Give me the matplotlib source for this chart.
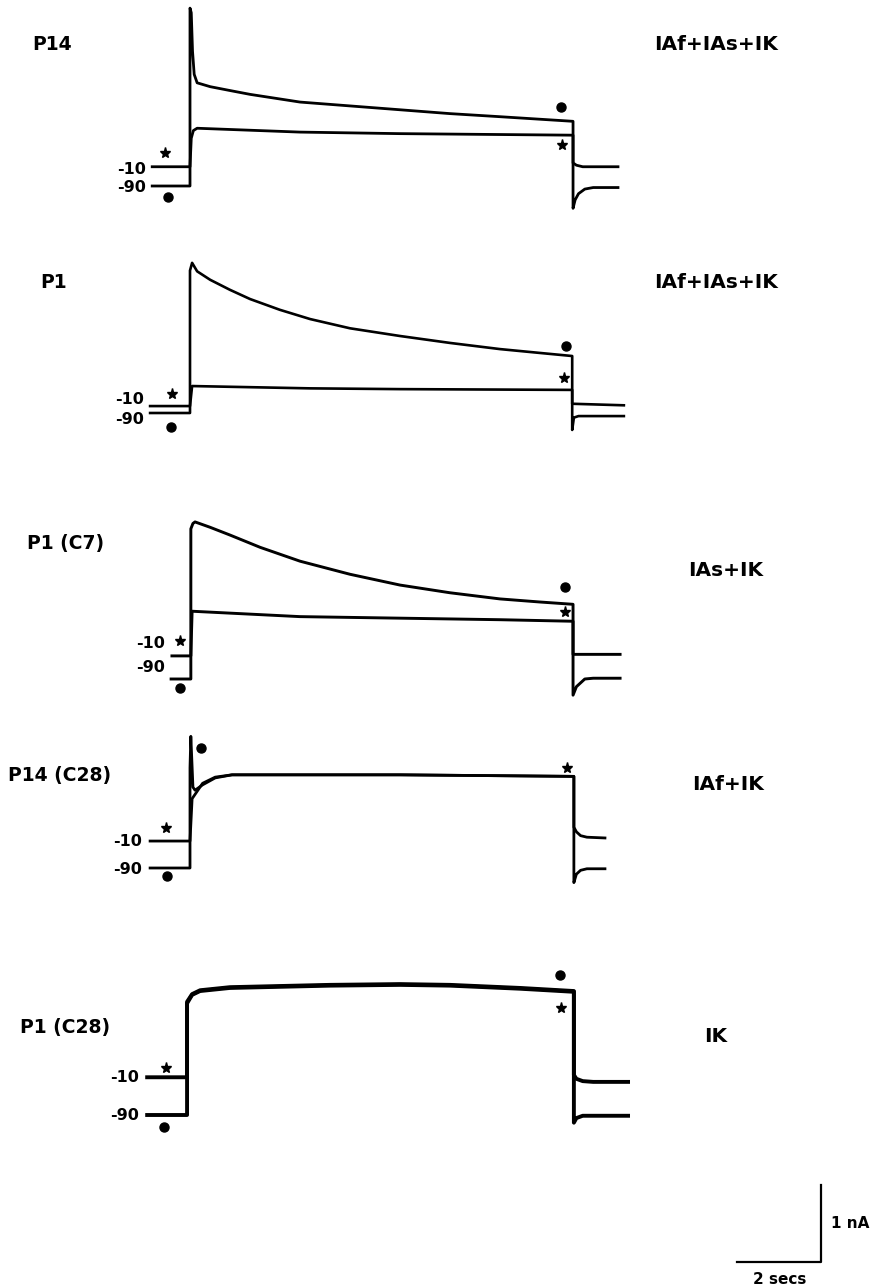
import matplotlib.pyplot as plt

plt.rcParams['font.family'] = ['DejaVu Sans']

# picture scale: 42 px per second, 77 px per nA; pulse onset at x = 190 px
PX_S = 42.0
PX_NA = 77.0
X0 = 190.0
W, H = 874, 1287

names = ["P14", "P1", "P1 (C7)", "P14 (C28)", "P1 (C28)"]
currents = ["IAf+IAs+IK", "IAf+IAs+IK", "IAs+IK", "IAf+IK", "IK"]
hold_labels = ["-10", "-90"]

# traces: time (s from pulse onset), current (nA above the -90 holding level)
# dot = prepulse -90 mV, star = prepulse -10 mV
p14_dot_t = [-0.90, 0.0, 0.0, 0.03, 0.06, 0.10, 0.17, 0.48, 0.95, 1.43, 2.62, 3.81, 5.0,
             6.19, 7.38, 9.12, 9.12, 9.17, 9.25, 9.4, 9.6, 10.19]
p14_dot_i = [0.0, 0.0, 2.31, 2.25, 1.75, 1.45, 1.34, 1.29, 1.24, 1.19, 1.09, 1.04, 0.99,
             0.94, 0.90, 0.84, -0.29, -0.18, -0.10, -0.04, -0.02, -0.02]
p14_star_t = [-0.90, 0.0, 0.03, 0.08, 0.17, 2.62, 5.0, 9.12, 9.12, 9.2, 9.35, 10.19]
p14_star_i = [0.25, 0.25, 0.62, 0.72, 0.75, 0.70, 0.68, 0.66, 0.30, 0.27, 0.25, 0.25]

p1_dot_t = [-0.95, 0.0, 0.0, 0.05, 0.17, 0.48, 0.95, 1.43, 2.14, 2.86, 3.81, 5.0, 6.19,
            7.38, 8.33, 9.10, 9.10, 9.14, 9.25, 10.33]
p1_dot_i = [0.0, 0.0, 1.85, 1.95, 1.84, 1.73, 1.60, 1.48, 1.34, 1.22, 1.10, 1.00, 0.91,
            0.83, 0.78, 0.74, -0.22, -0.06, -0.04, -0.04]
p1_star_t = [-0.95, 0.0, 0.05, 2.86, 5.0, 9.10, 9.10, 10.33]
p1_star_i = [0.09, 0.09, 0.35, 0.32, 0.31, 0.30, 0.12, 0.10]

c7_dot_t = [-0.45, 0.02, 0.02, 0.07, 0.12, 0.48, 0.95, 1.67, 2.62, 3.81, 5.0, 6.19,
            7.38, 8.33, 9.12, 9.12, 9.2, 9.4, 9.6, 10.24]
c7_dot_i = [0.0, 0.0, 1.95, 2.02, 2.04, 1.97, 1.87, 1.71, 1.53, 1.36, 1.22, 1.12,
            1.04, 1.00, 0.97, -0.21, -0.10, 0.0, 0.01, 0.01]
c7_star_t = [-0.43, 0.02, 0.05, 2.62, 7.38, 9.12, 9.12, 10.24]
c7_star_i = [0.30, 0.30, 0.88, 0.81, 0.77, 0.75, 0.32, 0.32]

p14c28_dot_t = [-0.95, 0.0, 0.0, 0.02, 0.07, 0.12, 0.3, 0.6, 1.0, 5.0, 9.14,
                9.14, 9.2, 9.3, 9.45, 9.88]
p14c28_dot_i = [0.0, 0.0, 1.30, 1.71, 1.05, 1.01, 1.08, 1.17, 1.21, 1.21, 1.19,
                -0.19, -0.08, -0.03, -0.01, -0.01]
p14c28_star_t = [-0.95, 0.0, 0.05, 0.3, 0.6, 1.0, 5.0, 9.14, 9.14, 9.2, 9.3, 9.45, 9.88]
p14c28_star_i = [0.35, 0.35, 0.90, 1.10, 1.18, 1.21, 1.21, 1.19, 0.53, 0.47, 0.42, 0.40, 0.39]

p1c28_dot_t = [-1.02, -0.07, -0.07, 0.05, 0.24, 0.95, 3.33, 5.0, 6.19, 7.86, 9.14,
               9.14, 9.2, 9.35, 10.43]
p1c28_dot_i = [0.0, 0.0, 1.47, 1.57, 1.62, 1.66, 1.69, 1.70, 1.69, 1.65, 1.61,
               -0.10, -0.04, -0.01, -0.01]
p1c28_star_t = [-1.02, -0.07, -0.07, 0.05, 0.24, 0.95, 3.33, 5.0, 6.19, 7.86, 9.14,
                9.14, 9.2, 9.35, 9.6, 10.43]
p1c28_star_i = [0.49, 0.49, 1.45, 1.56, 1.61, 1.65, 1.68, 1.69, 1.68, 1.64, 1.60,
                0.52, 0.47, 0.44, 0.43, 0.43]

dot_t = [p14_dot_t, p1_dot_t, c7_dot_t, p14c28_dot_t, p1c28_dot_t]
dot_i = [p14_dot_i, p1_dot_i, c7_dot_i, p14c28_dot_i, p1c28_dot_i]
star_t = [p14_star_t, p1_star_t, c7_star_t, p14c28_star_t, p1c28_star_t]
star_i = [p14_star_i, p1_star_i, c7_star_i, p14c28_star_i, p1c28_star_i]

# symbol positions (t, nA) per panel
star_marks = [[(-0.60, 0.43), (8.86, 0.53)],
              [(-0.43, 0.25), (8.90, 0.45)],
              [(-0.24, 0.49), (8.93, 0.87)],
              [(-0.57, 0.52), (8.98, 1.30)],
              [(-0.57, 0.61), (8.83, 1.39)]]
dot_marks = [[(-0.52, -0.14), (8.83, 1.03)],
             [(-0.45, -0.18), (8.95, 0.87)],
             [(-0.24, -0.12), (8.93, 1.19)],
             [(-0.55, -0.10), (0.26, 1.56)],
             [(-0.62, -0.16), (8.81, 1.82)]]

scale_s = 2
scale_na = 1

# layout (pixels)
base_py = [186, 413, 679, 868, 1115]
name_xy = [(32, 45), (40, 283), (27, 543), (8, 776), (20, 1027)]
cur_xy = [(716, 45), (716, 283), (726, 570), (728, 785), (716, 1037)]
hold_x = [146, 144, 165, 142, 139]
hold_y = [(169, 187), (400, 420), (644, 668), (841, 869), (1077, 1115)]
lw_trace = [2.0, 1.9, 2.1, 2.0, 2.8]


def tx(px):
    return (px - X0) / PX_S


def ty(py):
    return -py / PX_NA


fig = plt.figure(figsize=(W / 100, H / 100), dpi=100)
ax = fig.add_axes([0, 0, 1, 1])
ax.set_xlim(tx(0), tx(W))
ax.set_ylim(ty(H), ty(0))
ax.axis("off")

for k in range(5):
    off = ty(base_py[k])
    ax.plot(dot_t[k], [v + off for v in dot_i[k]], color="black", lw=lw_trace[k],
            solid_joinstyle="round")
    ax.plot(star_t[k], [v + off for v in star_i[k]], color="black", lw=lw_trace[k],
            solid_joinstyle="round")
    for (t, v) in star_marks[k]:
        ax.plot(t, v + off, marker="*", ms=8, color="black")
    for (t, v) in dot_marks[k]:
        ax.plot(t, v + off, marker="o", ms=6.5, color="black")
    nx, ny = name_xy[k]
    ax.text(tx(nx), ty(ny), names[k], fontsize=13.5, fontweight="bold",
            ha="left", va="center")
    cx, cy = cur_xy[k]
    ax.text(tx(cx), ty(cy), currents[k], fontsize=14.5, fontweight="bold",
            ha="center", va="center")
    for lab, yy in zip(hold_labels, hold_y[k]):
        ax.text(tx(hold_x[k]), ty(yy), lab, fontsize=11.5, fontweight="bold",
                ha="right", va="center")

# scale bar
sx, sy = tx(821), ty(1262)
ax.plot([sx - scale_s, sx, sx], [sy, sy, sy + scale_na], color="black", lw=1.6)
ax.text(tx(831), ty(1224), f"{scale_na} nA", fontsize=11, fontweight="bold",
        ha="left", va="center")
ax.text(tx(780), ty(1279), f"{scale_s} secs", fontsize=11, fontweight="bold",
        ha="center", va="center")

fig.savefig("out.png", dpi=100)
